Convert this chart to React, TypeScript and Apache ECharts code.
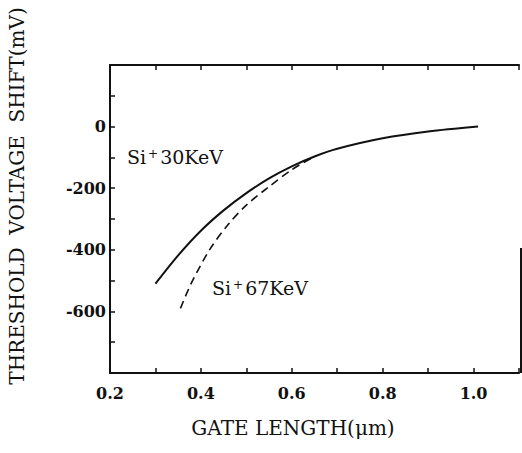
import React, { useEffect, useRef } from "react";
import * as echarts from "echarts";

// Gate length (µm) and threshold voltage shift (mV)
const xSolid = [0.30, 0.35, 0.40, 0.45, 0.50, 0.55, 0.60, 0.65, 0.70, 0.80, 0.90, 1.01];
const ySolid = [-510, -418, -338, -272, -216, -168, -129, -97, -72, -38, -16, 0];
const xDashed = [0.355, 0.38, 0.42, 0.46, 0.50, 0.55, 0.60, 0.65];
const yDashed = [-590, -505, -398, -318, -255, -195, -140, -97];

const xTickLabels = [0.2, 0.4, 0.6, 0.8, 1.0];
const yTickLabels = [0, -200, -400, -600];

const FONT = "DejaVu Serif";
const INK = "#111";

export default function App() {
  const ref = useRef<HTMLDivElement>(null);
  useEffect(() => {
    if (!ref.current) return;
    const chart = echarts.init(ref.current, null, { renderer: "svg" });
    const solid = xSolid.map((x, i) => [x, ySolid[i]]);
    const dashed = xDashed.map((x, i) => [x, yDashed[i]]);
    const baseX = {
      type: "value" as const,
      min: 0.2,
      max: 1.1,
      interval: 0.1,
      axisLine: { show: true, onZero: false, lineStyle: { color: INK, width: 2 } },
      axisTick: { show: true, inside: true, length: 5, lineStyle: { color: INK, width: 1.5 } },
      splitLine: { show: false },
    };
    chart.setOption({
      animation: false,
      backgroundColor: "#fff",
      grid: { left: 110, top: 65, width: 411, height: 308, containLabel: false },
      xAxis: [
        {
          ...baseX,
          position: "bottom",
          axisLabel: {
            color: INK,
            fontFamily: FONT,
            fontSize: 16,
            fontWeight: "bold",
            margin: 12,
            formatter: (v: number) => {
              const hit = xTickLabels.find((t) => Math.abs(t - v) < 1e-6);
              return hit !== undefined ? hit.toFixed(1) : "";
            },
          },
        },
        {
          ...baseX,
          position: "top",
          axisLabel: { show: false },
        },
      ],
      yAxis: {
        type: "value",
        min: -800,
        max: 200,
        interval: 100,
        axisLine: { show: true, onZero: false, lineStyle: { color: INK, width: 2 } },
        axisTick: { show: true, inside: true, length: 5, lineStyle: { color: INK, width: 1.5 } },
        splitLine: { show: false },
        axisLabel: {
          color: INK,
          fontFamily: FONT,
          fontSize: 16,
          fontWeight: "bold",
          margin: 4,
          formatter: (v: number) => (yTickLabels.includes(Math.round(v)) ? String(Math.round(v)) : ""),
        },
      },
      series: [
        {
          type: "line",
          xAxisIndex: 0,
          data: solid,
          smooth: 0.3,
          showSymbol: false,
          lineStyle: { color: INK, width: 2 },
        },
        {
          type: "line",
          xAxisIndex: 0,
          data: dashed,
          smooth: 0.3,
          showSymbol: false,
          lineStyle: { color: INK, width: 1.6, type: [8, 5] },
        },
      ],
      graphic: [
        {
          type: "line",
          shape: { x1: 521, y1: 248, x2: 521, y2: 373 },
          style: { stroke: INK, lineWidth: 2 },
        },
        {
          type: "text",
          x: 17,
          y: 196,
          rotation: Math.PI / 2,
          style: {
            text: "THRESHOLD  VOLTAGE  SHIFT(mV)",
            font: `20px "${FONT}"`,
            fill: INK,
            align: "center",
            verticalAlign: "middle",
          },
        },
        {
          type: "text",
          x: 293,
          y: 428,
          style: {
            text: "GATE LENGTH(μm)",
            font: `20px "${FONT}"`,
            fill: INK,
            align: "center",
            verticalAlign: "middle",
          },
        },
        {
          type: "text",
          x: 127,
          y: 157,
          style: {
            text: "{a|Si}{s|+}{a|30KeV}",
            fill: INK,
            align: "left",
            verticalAlign: "middle",
            rich: {
              a: { fontFamily: FONT, fontSize: 19, fill: INK },
              s: { fontFamily: FONT, fontSize: 12, fill: INK, verticalAlign: "top", padding: [0, 2, 0, 2] },
            },
          },
        },
        {
          type: "text",
          x: 212,
          y: 288,
          style: {
            text: "{a|Si}{s|+}{a|67KeV}",
            fill: INK,
            align: "left",
            verticalAlign: "middle",
            rich: {
              a: { fontFamily: FONT, fontSize: 19, fill: INK },
              s: { fontFamily: FONT, fontSize: 12, fill: INK, verticalAlign: "top", padding: [0, 2, 0, 2] },
            },
          },
        },
      ],
    });
    return () => chart.dispose();
  }, []);
  return (
    <div
      ref={ref}
      style={{ position: "fixed", left: 0, top: 0, width: 522, height: 453 }}
    />
  );
}
